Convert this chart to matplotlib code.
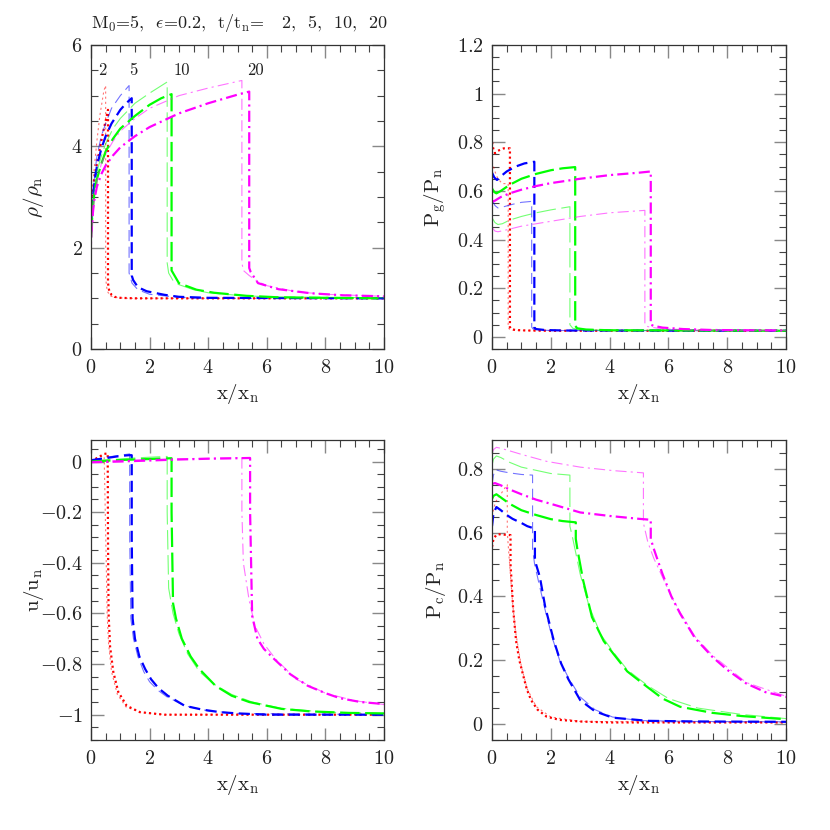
import matplotlib
matplotlib.use("Agg")
import matplotlib.pyplot as plt
from matplotlib.ticker import MultipleLocator, FuncFormatter

plt.rcParams["font.family"] = "serif"
plt.rcParams["font.serif"] = ["cmr10", "DejaVu Serif"]
plt.rcParams["mathtext.fontset"] = "cm"
plt.rcParams["axes.formatter.use_mathtext"] = True
plt.rcParams["lines.scale_dashes"] = False

times = ["2", "5", "10", "20"]

# density rho/rho_n : (x, y) thick and thin curves
rho_t2 = ([0, 0.05, 0.1, 0.2, 0.3, 0.4, 0.5, 0.58, 0.58, 0.62, 0.7, 0.8, 1.0, 1.5, 10],
          [2.6, 3.0, 3.3, 3.65, 3.95, 4.25, 4.5, 4.72, 1.3, 1.15, 1.07, 1.03, 1.01, 1.0, 1.0])
rho_t2_thin = ([0, 0.1, 0.2, 0.3, 0.44, 0.5, 0.5, 0.55, 0.65, 0.8, 1.2, 10],
               [2.6, 3.5, 4.1, 4.6, 5.1, 5.2, 1.4, 1.15, 1.05, 1.02, 1.0, 1.0])
rho_t5 = ([0, 0.05, 0.1, 0.2, 0.35, 0.5, 0.7, 1.0, 1.2, 1.39, 1.39, 1.44, 1.6, 1.9, 2.5, 3, 4, 10],
          [2.4, 2.9, 3.2, 3.6, 3.95, 4.2, 4.45, 4.72, 4.85, 4.95, 1.45, 1.36, 1.22, 1.14, 1.07, 1.03, 1.01, 1.0])
rho_t5_thin = ([0, 0.1, 0.2, 0.35, 0.5, 0.7, 1.0, 1.3, 1.3, 1.4, 1.6, 2.0, 3, 4, 10],
               [2.3, 3.3, 3.8, 4.2, 4.45, 4.75, 5.0, 5.2, 1.5, 1.3, 1.17, 1.08, 1.02, 1.0, 1.0])
rho_t10 = ([0, 0.05, 0.1, 0.2, 0.35, 0.5, 0.75, 1.0, 1.5, 2.0, 2.4, 2.75, 2.75, 2.81, 3.0, 3.6, 4.2, 5.3, 6.4, 8, 10],
           [2.2, 2.7, 3.0, 3.35, 3.65, 3.9, 4.15, 4.35, 4.6, 4.82, 4.95, 5.03, 1.55, 1.49, 1.3, 1.17, 1.11, 1.05, 1.02, 1.01, 1.0])
rho_t10_thin = ([0, 0.1, 0.2, 0.35, 0.5, 0.75, 1.0, 1.5, 2.0, 2.6, 2.6, 2.65, 2.8, 3.0, 3.5, 4, 5, 6, 10],
                [2.0, 3.1, 3.5, 3.8, 4.05, 4.35, 4.55, 4.85, 5.05, 5.27, 1.7, 1.5, 1.35, 1.27, 1.17, 1.11, 1.06, 1.03, 1.01])
rho_t20 = ([0, 0.05, 0.1, 0.2, 0.35, 0.5, 0.75, 1, 1.5, 2, 3, 4, 5, 5.4, 5.4, 5.45, 5.7, 6.4, 7.5, 8.6, 10],
           [2.2, 2.6, 2.9, 3.2, 3.45, 3.62, 3.82, 3.98, 4.2, 4.38, 4.65, 4.85, 5.02, 5.08, 1.6, 1.52, 1.3, 1.18, 1.1, 1.06, 1.04])
rho_t20_thin = ([0, 0.1, 0.2, 0.35, 0.5, 0.75, 1, 1.5, 2, 3, 4, 5.15, 5.15, 5.2, 5.4, 5.7, 6, 7, 8, 10],
                [1.9, 2.9, 3.3, 3.65, 3.85, 4.1, 4.3, 4.55, 4.75, 5.0, 5.15, 5.3, 1.7, 1.55, 1.45, 1.33, 1.25, 1.13, 1.08, 1.04])

# gas pressure P_g/P_n
pg_t2 = ([0, 0.05, 0.1, 0.2, 0.4, 0.61, 0.61, 0.65, 0.8, 1.2, 2, 10],
         [0.80, 0.77, 0.755, 0.765, 0.775, 0.775, 0.04, 0.032, 0.028, 0.026, 0.025, 0.025])
pg_t2_thin = ([0, 0.1, 0.2, 0.35, 0.55, 0.55, 0.6, 0.8, 10],
              [0.72, 0.68, 0.65, 0.63, 0.63, 0.04, 0.03, 0.026, 0.025])
pg_t5 = ([0, 0.08, 0.17, 0.3, 0.5, 0.8, 1.1, 1.44, 1.44, 1.5, 1.8, 2.5, 10],
         [0.675, 0.655, 0.645, 0.66, 0.68, 0.7, 0.713, 0.72, 0.037, 0.032, 0.028, 0.026, 0.025])
pg_t5_thin = ([0, 0.1, 0.2, 0.4, 0.7, 1.0, 1.35, 1.35, 1.4, 1.6, 2, 10],
              [0.565, 0.54, 0.53, 0.535, 0.545, 0.553, 0.557, 0.04, 0.032, 0.028, 0.026, 0.025])
pg_t10 = ([0, 0.08, 0.15, 0.3, 0.6, 1.0, 1.5, 2.0, 2.4, 2.83, 2.83, 2.9, 3.2, 4, 10],
          [0.61, 0.595, 0.59, 0.6, 0.625, 0.65, 0.67, 0.685, 0.693, 0.698, 0.045, 0.035, 0.03, 0.027, 0.025])
pg_t10_thin = ([0, 0.1, 0.2, 0.35, 0.6, 1.0, 1.5, 2.0, 2.65, 2.65, 2.75, 3, 4, 10],
               [0.49, 0.47, 0.462, 0.465, 0.48, 0.495, 0.51, 0.522, 0.535, 0.05, 0.035, 0.03, 0.027, 0.025])
pg_t20 = ([0, 0.1, 0.3, 0.6, 1, 1.5, 2, 3, 4, 5, 5.4, 5.4, 5.5, 5.8, 6.5, 7.5, 10],
          [0.555, 0.56, 0.575, 0.59, 0.605, 0.62, 0.632, 0.65, 0.665, 0.675, 0.68, 0.05, 0.045, 0.038, 0.032, 0.028, 0.026])
pg_t20_thin = ([0, 0.1, 0.2, 0.5, 1, 2, 3, 4, 5.2, 5.2, 5.3, 5.6, 6, 7, 10],
               [0.45, 0.435, 0.432, 0.44, 0.455, 0.475, 0.495, 0.51, 0.52, 0.05, 0.042, 0.036, 0.032, 0.028, 0.026])

# velocity u/u_n
u_t2 = ([0, 0.15, 0.3, 0.45, 0.57, 0.58, 0.6, 0.65, 0.76, 0.93, 1.22, 1.67, 2.5, 10],
        [0, 0.01, 0.02, 0.03, 0.032, -0.3, -0.6, -0.73, -0.83, -0.91, -0.965, -0.99, -1.0, -1.0])
u_t2_thin = ([0, 0.1, 0.2, 0.3, 0.45, 0.52, 0.55, 0.6, 0.7, 0.9, 1.2, 1.7, 2.5, 10],
             [0, 0.008, 0.015, 0.02, 0.02, -0.4, -0.6, -0.72, -0.83, -0.92, -0.97, -0.99, -1, -1])
u_t5 = ([0, 0.3, 0.6, 1.0, 1.3, 1.39, 1.39, 1.42, 1.5, 1.65, 1.85, 2.05, 2.3, 2.62, 3.2, 3.8, 4.4, 5, 6, 10],
        [0.005, 0.01, 0.015, 0.022, 0.025, 0.025, -0.3, -0.62, -0.7, -0.77, -0.82, -0.86, -0.895, -0.925, -0.965, -0.98, -0.99, -0.995, -1, -1])
u_t5_thin = ([0, 0.3, 0.6, 1.0, 1.32, 1.32, 1.36, 1.45, 1.6, 1.8, 2.0, 2.3, 2.6, 3.2, 4, 5, 10],
             [0.005, 0.012, 0.018, 0.025, 0.03, -0.3, -0.62, -0.7, -0.77, -0.83, -0.87, -0.905, -0.93, -0.965, -0.985, -0.995, -1])
u_t10 = ([0, 0.5, 1, 1.5, 2, 2.5, 2.75, 2.75, 2.8, 2.9, 3.1, 3.4, 3.7, 4.25, 4.8, 5.4, 6.5, 7.5, 8.8, 10],
         [0.0, 0.003, 0.006, 0.008, 0.01, 0.012, 0.013, -0.2, -0.56, -0.62, -0.70, -0.77, -0.82, -0.886, -0.925, -0.95, -0.977, -0.987, -0.993, -0.995])
u_t10_thin = ([0, 0.5, 1, 1.5, 2, 2.6, 2.6, 2.65, 2.8, 3.0, 3.3, 3.7, 4.2, 4.8, 5.5, 6.5, 8, 10],
              [0, 0.006, 0.01, 0.014, 0.017, 0.02, -0.2, -0.5, -0.6, -0.68, -0.76, -0.83, -0.88, -0.92, -0.95, -0.975, -0.99, -0.995])
u_t20 = ([0, 1, 2, 3, 4, 5, 5.43, 5.43, 5.5, 5.68, 5.9, 6.25, 6.8, 7.4, 8, 8.5, 9.2, 10],
         [-0.003, 0.0, 0.004, 0.008, 0.011, 0.013, 0.014, -0.2, -0.61, -0.70, -0.74, -0.78, -0.84, -0.886, -0.915, -0.935, -0.95, -0.958])
u_t20_thin = ([0, 1, 2, 3, 4, 5.15, 5.15, 5.2, 5.4, 5.6, 5.9, 6.3, 7, 8, 9, 10],
              [0, 0.004, 0.008, 0.011, 0.013, 0.015, -0.2, -0.4, -0.55, -0.65, -0.72, -0.78, -0.86, -0.915, -0.945, -0.96])

# cosmic-ray pressure P_c/P_n
pc_t2 = ([0, 0.05, 0.15, 0.3, 0.45, 0.63, 0.63, 0.65, 0.72, 0.82, 0.93, 1.04, 1.18, 1.33, 1.55, 1.86, 2.3, 3, 4, 10],
         [0.555, 0.58, 0.593, 0.595, 0.593, 0.592, 0.5, 0.47, 0.36, 0.26, 0.2, 0.16, 0.11, 0.075, 0.045, 0.023, 0.013, 0.008, 0.005, 0.005])
pc_t2_thin = ([0, 0.1, 0.2, 0.3, 0.4, 0.52, 0.52, 0.6, 0.7, 0.8, 1.0, 1.2, 1.5, 2, 3, 10],
              [0.65, 0.69, 0.71, 0.72, 0.735, 0.75, 0.6, 0.5, 0.38, 0.29, 0.18, 0.11, 0.055, 0.022, 0.008, 0.005])
pc_t5 = ([0, 0.05, 0.15, 0.3, 0.5, 0.7, 1.0, 1.2, 1.46, 1.46, 1.5, 1.63, 1.81, 2.1, 2.35, 2.6, 3.0, 3.5, 4.1, 5.3, 7, 10],
         [0.62, 0.66, 0.68, 0.67, 0.655, 0.643, 0.63, 0.62, 0.612, 0.52, 0.5, 0.46, 0.367, 0.262, 0.19, 0.14, 0.075, 0.04, 0.02, 0.01, 0.008, 0.007])
pc_t5_thin = ([0, 0.05, 0.12, 0.3, 0.6, 1.0, 1.38, 1.38, 1.45, 1.6, 1.8, 2.05, 2.3, 2.6, 3.0, 3.5, 4.1, 5, 7, 10],
              [0.75, 0.78, 0.797, 0.792, 0.787, 0.782, 0.78, 0.55, 0.5, 0.44, 0.36, 0.27, 0.2, 0.145, 0.085, 0.045, 0.022, 0.011, 0.008, 0.007])
pc_t10 = ([0, 0.05, 0.15, 0.3, 0.6, 1.0, 1.5, 2.0, 2.4, 2.85, 2.85, 2.9, 3.1, 3.4, 3.8, 4.13, 4.6, 5.27, 5.8, 6.4, 7.5, 8.5, 10],
          [0.705, 0.715, 0.72, 0.71, 0.69, 0.67, 0.655, 0.642, 0.636, 0.632, 0.58, 0.55, 0.45, 0.335, 0.26, 0.22, 0.165, 0.117, 0.08, 0.054, 0.035, 0.025, 0.015])
pc_t10_thin = ([0, 0.05, 0.15, 0.3, 0.6, 1.0, 1.5, 2.0, 2.65, 2.65, 2.75, 3.0, 3.3, 3.7, 4.13, 4.6, 5.3, 6, 7, 8.5, 10],
               [0.81, 0.83, 0.84, 0.835, 0.82, 0.805, 0.795, 0.785, 0.78, 0.62, 0.58, 0.47, 0.37, 0.28, 0.225, 0.17, 0.12, 0.08, 0.05, 0.03, 0.017])
pc_t20 = ([0, 0.1, 0.3, 0.6, 1, 1.5, 2, 3, 4, 5, 5.4, 5.4, 5.5, 5.6, 5.8, 6.1, 6.4, 6.9, 7.5, 8, 8.65, 9.3, 10],
          [0.752, 0.755, 0.748, 0.735, 0.72, 0.703, 0.69, 0.663, 0.652, 0.643, 0.64, 0.58, 0.55, 0.523, 0.47, 0.4, 0.346, 0.27, 0.21, 0.17, 0.127, 0.1, 0.085])
pc_t20_thin = ([0, 0.05, 0.15, 0.3, 0.6, 1, 1.86, 3, 4.13, 5.15, 5.15, 5.3, 5.5, 5.8, 6.1, 6.4, 6.9, 7.5, 8.65, 10],
               [0.849, 0.86, 0.867, 0.864, 0.856, 0.845, 0.823, 0.805, 0.794, 0.787, 0.63, 0.57, 0.52, 0.46, 0.4, 0.35, 0.275, 0.215, 0.13, 0.087])

colors = ["#ff0000", "#0000ff", "#00ff00", "#ff00ff"]
dashes = [(0, (1.5, 2.2)), (0, (8, 4)), (0, (14, 4)), (0, (8, 3, 1.5, 3))]

# panel rectangles in pixels (left, top, right, bottom) on the 830x830 figure
W = 830.0
def rect(l, t, r, b):
	return [l / W, 1 - b / W, (r - l) / W, (b - t) / W]

fig = plt.figure(figsize=(8.3, 8.3), dpi=100)

def fmt(v, pos):
	return "$%g$" % round(v, 3)

def setupAx(ax, ylim, ymaj, ymin, ylabel, labelX):
	ax.set_xlim(0, 10)
	ax.set_ylim(*ylim)
	ax.xaxis.set_major_locator(MultipleLocator(2))
	ax.xaxis.set_minor_locator(MultipleLocator(0.5))
	ax.yaxis.set_major_locator(MultipleLocator(ymaj))
	ax.yaxis.set_minor_locator(MultipleLocator(ymin))
	ax.xaxis.set_major_formatter(FuncFormatter(fmt))
	ax.yaxis.set_major_formatter(FuncFormatter(fmt))
	ax.tick_params(which="both", direction="in", top=True, right=True, labelsize=14.5, colors="#222222")
	ax.tick_params(which="major", length=9, width=1, color="#888888")
	ax.tick_params(which="minor", length=5, width=0.8, color="#444444")
	ax.tick_params(axis="x", pad=7)
	ax.tick_params(axis="y", pad=6)
	for s in ax.spines.values():
		s.set_linewidth(0.9)
		s.set_color("#333333")
	ax.set_xlabel(r"x/x$_{\rm n}$", fontsize=15, color="#222222", labelpad=4)
	ax.set_ylabel(ylabel, fontsize=15, color="#222222")
	ax.yaxis.set_label_coords(labelX, 0.5)

def drawCurves(ax, thick, thin):
	for i in range(4):
		ax.plot(thin[i][0], thin[i][1], color=colors[i], alpha=0.55, linewidth=0.8, linestyle=dashes[i])
		ax.plot(thick[i][0], thick[i][1], color=colors[i], linewidth=1.6, linestyle=dashes[i])

ax1 = fig.add_axes(rect(91, 45, 384, 349))
drawCurves(ax1, [rho_t2, rho_t5, rho_t10, rho_t20], [rho_t2_thin, rho_t5_thin, rho_t10_thin, rho_t20_thin])
setupAx(ax1, (0, 6), 2, 0.5, r"$\rho/\rho_{\rm n}$", -0.155)
labelXs = [0.4, 1.45, 3.1, 5.6]
for i in range(4):
	ax1.text(labelXs[i], 5.5, times[i], fontsize=12, color="#222222", ha="center", va="center")
ax1.text(0.0, 1.035, r"M$_0$=5,  $\epsilon$=0.2,  t/t$_{\rm n}$=   2,  5,  10,  20",
		transform=ax1.transAxes, fontsize=13, color="#222222", ha="left", va="bottom")

ax2 = fig.add_axes(rect(492, 45, 786, 349))
drawCurves(ax2, [pg_t2, pg_t5, pg_t10, pg_t20], [pg_t2_thin, pg_t5_thin, pg_t10_thin, pg_t20_thin])
setupAx(ax2, (-0.05, 1.2), 0.2, 0.05, r"P$_{\rm g}$/P$_{\rm n}$", -0.15)

ax3 = fig.add_axes(rect(91, 440, 384, 740))
drawCurves(ax3, [u_t2, u_t5, u_t10, u_t20], [u_t2_thin, u_t5_thin, u_t10_thin, u_t20_thin])
setupAx(ax3, (-1.1, 0.085), 0.2, 0.05, r"u/u$_{\rm n}$", -0.155)

ax4 = fig.add_axes(rect(492, 440, 786, 740))
drawCurves(ax4, [pc_t2, pc_t5, pc_t10, pc_t20], [pc_t2_thin, pc_t5_thin, pc_t10_thin, pc_t20_thin])
setupAx(ax4, (-0.05, 0.89), 0.2, 0.05, r"P$_{\rm c}$/P$_{\rm n}$", -0.15)

fig.savefig("out.png", dpi=100)
